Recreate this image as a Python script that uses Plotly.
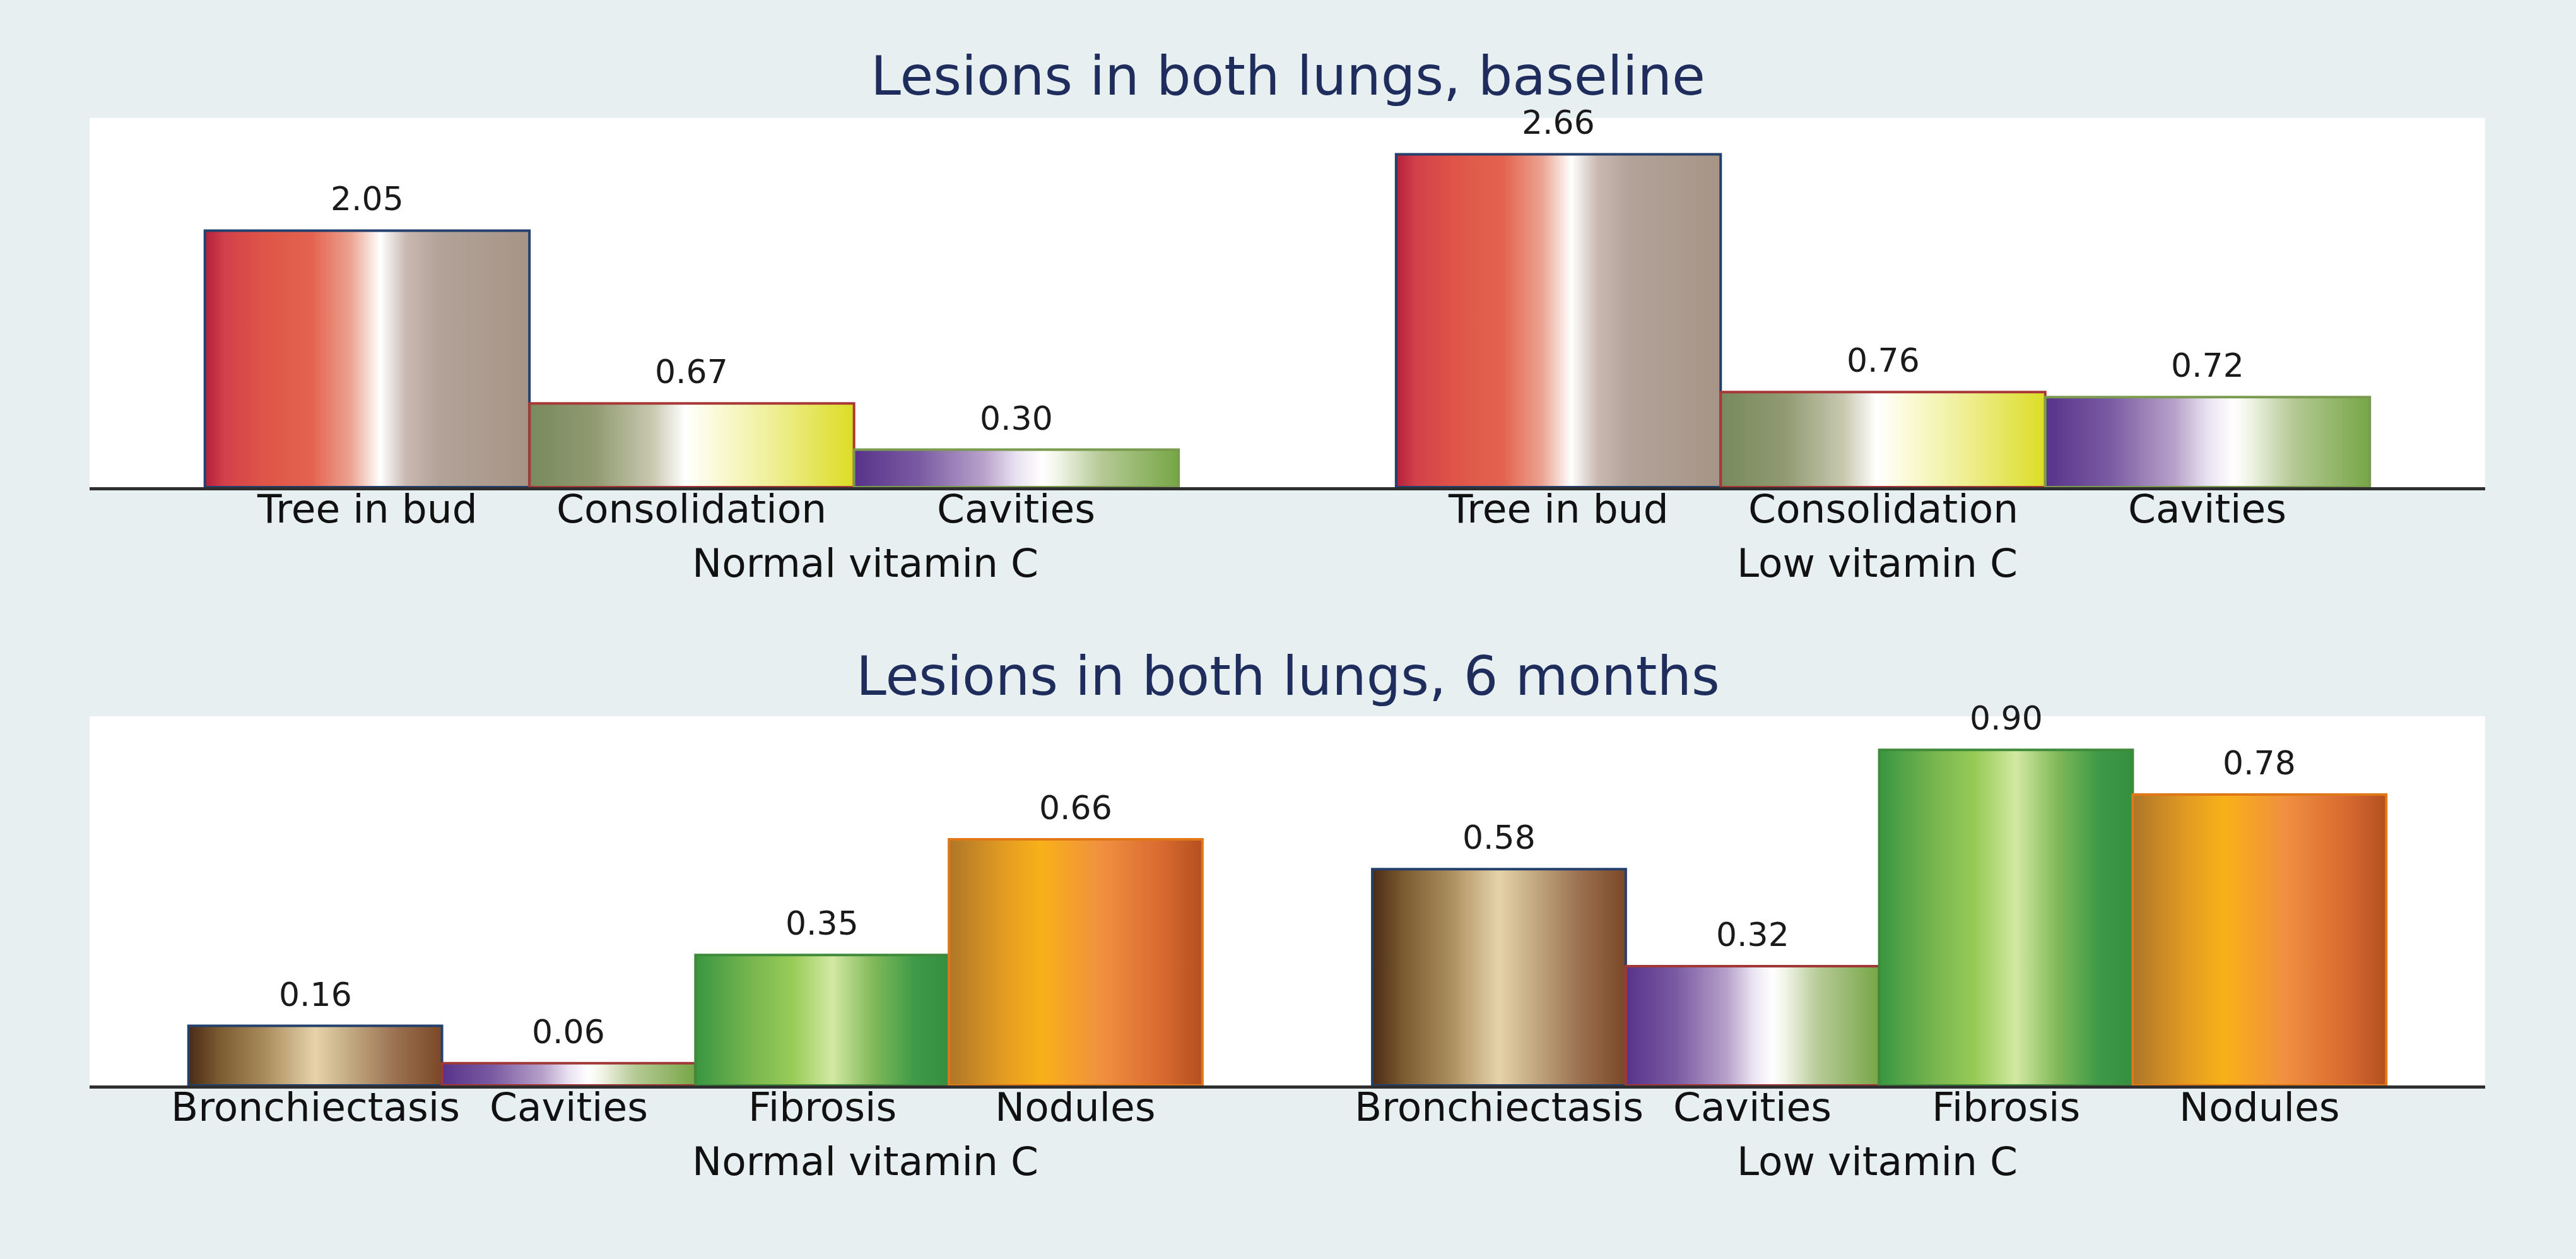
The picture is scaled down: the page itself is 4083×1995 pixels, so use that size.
import plotly.graph_objects as go

# data
groups = ["Normal vitamin C", "Low vitamin C"]

baseline_lesions = ["Tree in bud", "Consolidation", "Cavities"]
baseline_normal = [2.05, 0.67, 0.30]
baseline_low = [2.66, 0.76, 0.72]

month6_lesions = ["Bronchiectasis", "Cavities", "Fibrosis", "Nodules"]
month6_normal = [0.16, 0.06, 0.35, 0.66]
month6_low = [0.58, 0.32, 0.90, 0.78]

titles = ["Lesions in both lungs, baseline", "Lesions in both lungs, 6 months"]

# shaded "cylinder" fills, one per lesion type
GRAD = {
    "Tree in bud": [[0, "#b41f3c"], [0.06, "#d2404a"], [0.18, "#df5548"], [0.33, "#e3634f"],
                    [0.45, "#eca492"], [0.54, "#ffffff"], [0.62, "#c9b9b1"], [0.72, "#b2a298"],
                    [1, "#a69486"]],
    "Consolidation": [[0, "#778a5e"], [0.2, "#919a72"], [0.38, "#c8c9b0"], [0.48, "#ffffff"],
                      [0.56, "#fbfbde"], [0.76, "#eeee92"], [1, "#dcdc24"]],
    "Cavities": [[0, "#58338a"], [0.2, "#7a5ba2"], [0.4, "#b8a2ca"], [0.5, "#e9e2f1"],
                 [0.58, "#ffffff"], [0.63, "#f0f4e6"], [0.76, "#b6ca96"], [1, "#76a646"]],
    "Bronchiectasis": [[0, "#4a2b17"], [0.12, "#7a5a30"], [0.3, "#a98b5b"], [0.5, "#e6d3aa"],
                       [0.62, "#c7af87"], [0.82, "#9a7050"], [1, "#7b4826"]],
    "Fibrosis": [[0, "#389640"], [0.22, "#78b64f"], [0.38, "#97cb57"], [0.54, "#d2e9a2"],
                 [0.7, "#82b95a"], [0.86, "#3f9b48"], [1, "#348f3f"]],
    "Nodules": [[0, "#ae7628"], [0.22, "#e49c22"], [0.36, "#f8b118"], [0.6, "#f09040"],
                [0.84, "#d86a30"], [1, "#b44f20"]],
}
EDGE = [
    {"Tree in bud": "#23406e", "Consolidation": "#a83838", "Cavities": "#7a9a50"},
    {"Bronchiectasis": "#23406e", "Cavities": "#a03838", "Fibrosis": "#3f8a3a", "Nodules": "#e07818"},
]

FONT = "DejaVu Sans"
GAP = 0.67  # gap between the two groups, in bar widths

panels = [
    (baseline_lesions, [baseline_normal, baseline_low], 0.355, 2.95),
    (month6_lesions, [month6_normal, month6_low], 0.39, 0.99),
]
ydomains = [[0.613, 0.9063], [0.1378, 0.4311]]
title_y = [0.94, 0.463]

fig = go.Figure()
annotations = []

for p, (lesions, series, pad, ytop) in enumerate(panels):
    xa = "x" if p == 0 else "x2"
    ya = "y" if p == 0 else "y2"
    n = len(lesions)
    for g, vals in enumerate(series):
        start = g * (n + GAP)
        for i, (name, v) in enumerate(zip(lesions, vals)):
            x0, x1 = start + i, start + i + 1
            fig.add_trace(go.Scatter(
                x=[x0, x0, x1, x1, x0], y=[0, v, v, 0, 0],
                mode="lines", fill="toself",
                fillgradient=dict(type="horizontal", colorscale=GRAD[name]),
                line=dict(color=EDGE[p][name], width=4),
                xaxis=xa, yaxis=ya, showlegend=False, hoverinfo="skip",
            ))
            # value above the bar
            annotations.append(dict(
                x=x0 + 0.5, y=v, xref=xa, yref=ya, text=f"{v:.2f}", showarrow=False,
                yanchor="middle", yshift=50, font=dict(family=FONT, size=52, color="#1a1a1a"),
            ))
            # lesion name under the bar
            annotations.append(dict(
                x=x0 + 0.5, y=0, xref=xa, yref=f"{ya} domain", text=name, showarrow=False,
                yanchor="middle", yshift=-34, font=dict(family=FONT, size=63, color="#111111"),
            ))

    axis_key = "xaxis" if p == 0 else "xaxis2"
    yaxis_key = "yaxis" if p == 0 else "yaxis2"
    right = len(series) * n + (len(series) - 1) * GAP + pad
    fig.update_layout(**{
        axis_key: dict(
            domain=[0.0348, 0.9647], range=[-pad, right], anchor=ya,
            showticklabels=False, ticks="", showgrid=False, zeroline=False,
            showline=True, linecolor="#2e2e2e", linewidth=5,
        ),
        yaxis_key: dict(
            domain=ydomains[p], range=[0, ytop], anchor=xa,
            visible=False, showgrid=False, zeroline=False,
        ),
    })

    # group labels under each cluster
    for gx, gname in zip([0.336, 0.7837], groups):
        annotations.append(dict(
            x=gx, y=0, xref="paper", yref=f"{ya} domain",
            text=gname, showarrow=False, yanchor="middle", yshift=-120,
            font=dict(family=FONT, size=63, color="#111111"),
        ))

    annotations.append(dict(
        x=0.5, y=title_y[p], xref="paper", yref="paper", text=titles[p], showarrow=False,
        xanchor="center", yanchor="middle", font=dict(family=FONT, size=86, color="#1e2d5c"),
    ))

fig.update_layout(
    width=4083, height=1995,
    margin=dict(l=0, r=0, t=0, b=0),
    paper_bgcolor="#e8eff1",
    plot_bgcolor="#ffffff",
    annotations=annotations,
)

fig.write_html("out.html", config={"displayModeBar": False},
               post_script="document.body.style.margin='0';")
